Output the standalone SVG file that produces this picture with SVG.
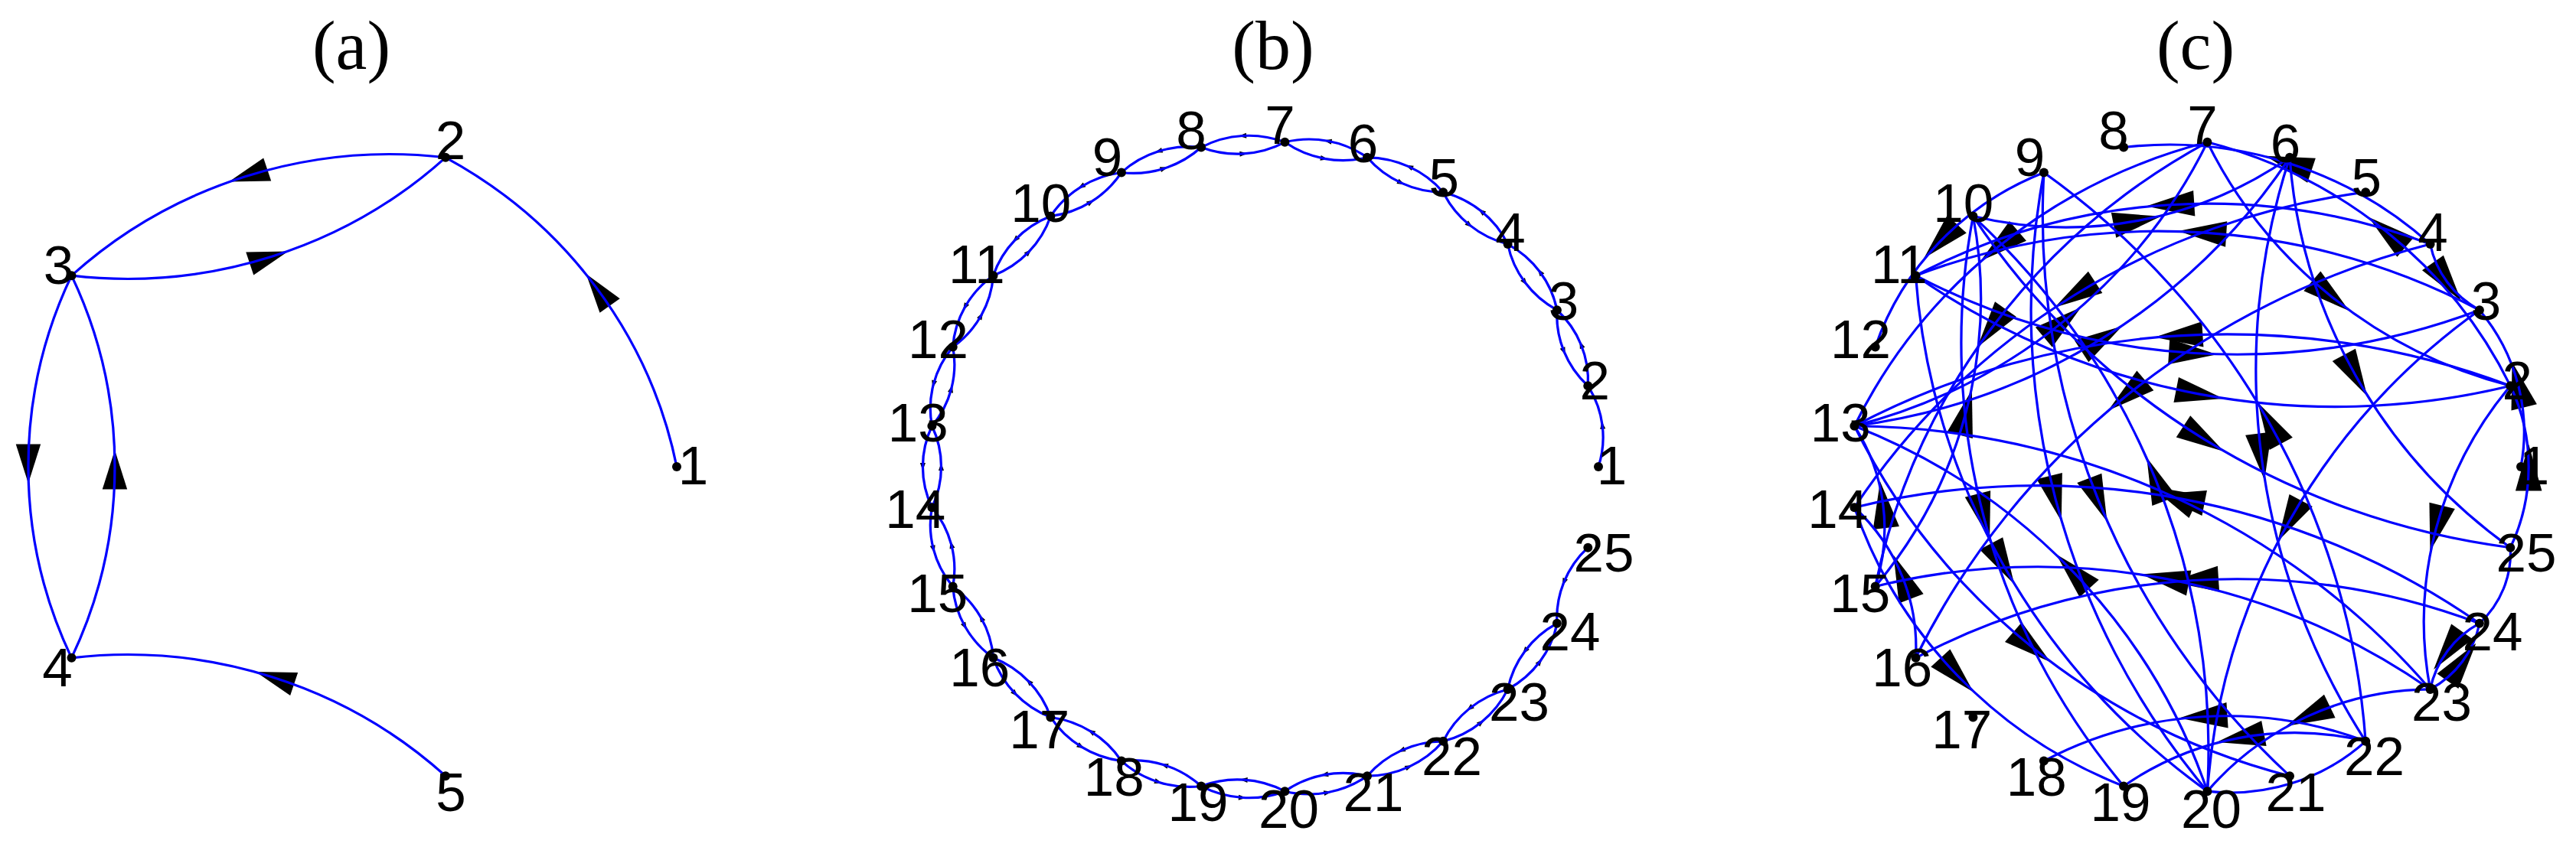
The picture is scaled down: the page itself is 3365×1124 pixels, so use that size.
<svg xmlns="http://www.w3.org/2000/svg" width="3365" height="1124" viewBox="0 0 3365 1124">
<style>
.e{fill:none;stroke:#0000ff;stroke-width:3.2}
.ar{fill:none;stroke:none}
.lbl{font-family:"Liberation Sans",Arial,sans-serif;font-size:71px;fill:#000;text-anchor:middle}
.ttl{font-family:"Liberation Serif","Times New Roman",serif;font-size:92px;fill:#000;text-anchor:middle}
.dot{fill:#000}
</style>
<defs>
<marker id="mA" markerUnits="userSpaceOnUse" orient="auto" refX="0" refY="0" markerWidth="70" markerHeight="40" overflow="visible"><path d="M22,0 L-30,-16 L-30,16 Z" fill="#000"/></marker>
<marker id="mB" markerUnits="userSpaceOnUse" orient="auto" refX="0" refY="0" markerWidth="20" markerHeight="10" overflow="visible"><path d="M5,0 L-5,-3.5 L-5,3.5 Z" fill="#000"/></marker>
<marker id="mC" markerUnits="userSpaceOnUse" orient="auto" refX="0" refY="0" markerWidth="70" markerHeight="40" overflow="visible"><path d="M30,0 L-32,-17 L-32,17 Z" fill="#000"/></marker>
<path id="c1" d="M427.60,54.02 A128.71,128.71 0 0 0 439.48,0 A128.71,128.71 0 0 0 427.60,-54.02"/>
<path id="c2" d="M417.46,107.19 A255.40,255.40 0 0 0 441.04,0 A255.40,255.40 0 0 0 417.46,-107.19"/>
<path id="c3" d="M400.73,158.66 A378.05,378.05 0 0 0 435.64,0 A378.05,378.05 0 0 0 400.73,-158.66"/>
<path id="c4" d="M377.69,207.64 A494.75,494.75 0 0 0 423.37,0 A494.75,494.75 0 0 0 377.69,-207.64"/>
<path id="c5" d="M348.69,253.34 A603.64,603.64 0 0 0 404.42,0 A603.64,603.64 0 0 0 348.69,-253.34"/>
<path id="c6" d="M314.19,295.04 A703.00,703.00 0 0 0 379.10,0 A703.00,703.00 0 0 0 314.19,-295.04"/>
<path id="c7" d="M274.73,332.09 A791.29,791.29 0 0 0 347.79,0 A791.29,791.29 0 0 0 274.73,-332.09"/>
<path id="c8" d="M230.94,363.91 A867.10,867.10 0 0 0 311.00,0 A867.10,867.10 0 0 0 230.94,-363.91"/>
<path id="c9" d="M183.51,389.98 A929.21,929.21 0 0 0 269.31,0 A929.21,929.21 0 0 0 183.51,-389.98"/>
<path id="c11" d="M80.76,423.37 A1008.78,1008.78 0 0 0 173.90,0 A1008.78,1008.78 0 0 0 80.76,-423.37"/>
<path id="c12" d="M27.06,430.15 A1024.94,1024.94 0 0 0 121.69,0 A1024.94,1024.94 0 0 0 27.06,-430.15"/>
<path id="c15" d="M-133.19,409.91 A976.71,976.71 0 0 0 -43.01,0 A976.71,976.71 0 0 0 -133.19,-409.91"/>
<path id="c16" d="M-183.51,389.98 A929.21,929.21 0 0 0 -97.71,0 A929.21,929.21 0 0 0 -183.51,-389.98"/>
<path id="c17" d="M-230.94,363.91 A867.10,867.10 0 0 0 -150.88,0 A867.10,867.10 0 0 0 -230.94,-363.91"/>
<path id="c18" d="M-274.73,332.09 A791.29,791.29 0 0 0 -201.67,0 A791.29,791.29 0 0 0 -274.73,-332.09"/>
<path id="c19" d="M-314.19,295.04 A703.00,703.00 0 0 0 -249.28,0 A703.00,703.00 0 0 0 -314.19,-295.04"/>
<path id="c20" d="M-348.69,253.34 A603.64,603.64 0 0 0 -292.96,0 A603.64,603.64 0 0 0 -348.69,-253.34"/>
<path id="c21" d="M-377.69,207.64 A494.75,494.75 0 0 0 -332.01,0 A494.75,494.75 0 0 0 -377.69,-207.64"/>
<path id="c22" d="M-400.73,158.66 A378.05,378.05 0 0 0 -365.82,0 A378.05,378.05 0 0 0 -400.73,-158.66"/>
<path id="c23" d="M-417.46,107.19 A255.40,255.40 0 0 0 -393.88,0 A255.40,255.40 0 0 0 -417.46,-107.19"/>
<path id="c24" d="M-427.60,54.02 A128.71,128.71 0 0 0 -415.72,0 A128.71,128.71 0 0 0 -427.60,-54.02"/>
</defs>

<text class="ttl" x="459" y="90">(a)</text>
<text class="ttl" x="1663" y="90">(b)</text>
<text class="ttl" x="2868" y="90">(c)</text>

<!-- Panel (a) connectors -->
<g id="edges-a" transform="translate(447,610) scale(1.01392,0.98608)">
<g class="ar" style="marker-mid:url(#mA)">
<use href="#c5" transform="rotate(-36)"/>
<use href="#c5" transform="rotate(-108)"/>
<use href="#c5" transform="rotate(-180)"/>
<use href="#c20" transform="rotate(-288)"/>
<use href="#c20"/>
<use href="#c20" transform="rotate(-72)"/>
</g>
<g class="e">
<use href="#c5" transform="rotate(-36)"/>
<use href="#c5" transform="rotate(-108)"/>
<use href="#c5" transform="rotate(-180)"/>
<use href="#c20" transform="rotate(-288)"/>
<use href="#c20"/>
<use href="#c20" transform="rotate(-72)"/>
</g>
</g>

<!-- Panel (b) connectors -->
<g id="edges-b" transform="translate(1651,610) scale(1.01392,0.98608)">
<g class="ar" style="marker-mid:url(#mB)">
<use href="#c1" transform="rotate(-7.2)"/><use href="#c1" transform="rotate(-21.6)"/><use href="#c1" transform="rotate(-36)"/><use href="#c1" transform="rotate(-50.4)"/><use href="#c1" transform="rotate(-64.8)"/><use href="#c1" transform="rotate(-79.2)"/><use href="#c1" transform="rotate(-93.6)"/><use href="#c1" transform="rotate(-108)"/><use href="#c1" transform="rotate(-122.4)"/><use href="#c1" transform="rotate(-136.8)"/><use href="#c1" transform="rotate(-151.2)"/><use href="#c1" transform="rotate(-165.6)"/><use href="#c1" transform="rotate(-180)"/><use href="#c1" transform="rotate(-194.4)"/><use href="#c1" transform="rotate(-208.8)"/><use href="#c1" transform="rotate(-223.2)"/><use href="#c1" transform="rotate(-237.6)"/><use href="#c1" transform="rotate(-252)"/><use href="#c1" transform="rotate(-266.4)"/><use href="#c1" transform="rotate(-280.8)"/><use href="#c1" transform="rotate(-295.2)"/><use href="#c1" transform="rotate(-309.6)"/><use href="#c1" transform="rotate(-324)"/>
<use href="#c24" transform="rotate(-201.6)"/><use href="#c24" transform="rotate(-216)"/><use href="#c24" transform="rotate(-230.4)"/><use href="#c24" transform="rotate(-244.8)"/><use href="#c24" transform="rotate(-259.2)"/><use href="#c24" transform="rotate(-273.6)"/><use href="#c24" transform="rotate(-288)"/><use href="#c24" transform="rotate(-302.4)"/><use href="#c24" transform="rotate(-316.8)"/><use href="#c24" transform="rotate(-331.2)"/><use href="#c24" transform="rotate(-345.6)"/><use href="#c24" transform="rotate(-360)"/><use href="#c24" transform="rotate(-374.4)"/><use href="#c24" transform="rotate(-388.8)"/><use href="#c24" transform="rotate(-403.2)"/><use href="#c24" transform="rotate(-417.6)"/><use href="#c24" transform="rotate(-432)"/><use href="#c24" transform="rotate(-446.4)"/><use href="#c24" transform="rotate(-460.8)"/><use href="#c24" transform="rotate(-475.2)"/><use href="#c24" transform="rotate(-489.6)"/><use href="#c24" transform="rotate(-504)"/><use href="#c24" transform="rotate(-518.4)"/>
</g>
<g class="e">
<use href="#c1" transform="rotate(-7.2)"/><use href="#c1" transform="rotate(-21.6)"/><use href="#c1" transform="rotate(-36)"/><use href="#c1" transform="rotate(-50.4)"/><use href="#c1" transform="rotate(-64.8)"/><use href="#c1" transform="rotate(-79.2)"/><use href="#c1" transform="rotate(-93.6)"/><use href="#c1" transform="rotate(-108)"/><use href="#c1" transform="rotate(-122.4)"/><use href="#c1" transform="rotate(-136.8)"/><use href="#c1" transform="rotate(-151.2)"/><use href="#c1" transform="rotate(-165.6)"/><use href="#c1" transform="rotate(-180)"/><use href="#c1" transform="rotate(-194.4)"/><use href="#c1" transform="rotate(-208.8)"/><use href="#c1" transform="rotate(-223.2)"/><use href="#c1" transform="rotate(-237.6)"/><use href="#c1" transform="rotate(-252)"/><use href="#c1" transform="rotate(-266.4)"/><use href="#c1" transform="rotate(-280.8)"/><use href="#c1" transform="rotate(-295.2)"/><use href="#c1" transform="rotate(-309.6)"/><use href="#c1" transform="rotate(-324)"/>
<use href="#c24" transform="rotate(-201.6)"/><use href="#c24" transform="rotate(-216)"/><use href="#c24" transform="rotate(-230.4)"/><use href="#c24" transform="rotate(-244.8)"/><use href="#c24" transform="rotate(-259.2)"/><use href="#c24" transform="rotate(-273.6)"/><use href="#c24" transform="rotate(-288)"/><use href="#c24" transform="rotate(-302.4)"/><use href="#c24" transform="rotate(-316.8)"/><use href="#c24" transform="rotate(-331.2)"/><use href="#c24" transform="rotate(-345.6)"/><use href="#c24" transform="rotate(-360)"/><use href="#c24" transform="rotate(-374.4)"/><use href="#c24" transform="rotate(-388.8)"/><use href="#c24" transform="rotate(-403.2)"/><use href="#c24" transform="rotate(-417.6)"/><use href="#c24" transform="rotate(-432)"/><use href="#c24" transform="rotate(-446.4)"/><use href="#c24" transform="rotate(-460.8)"/><use href="#c24" transform="rotate(-475.2)"/><use href="#c24" transform="rotate(-489.6)"/><use href="#c24" transform="rotate(-504)"/><use href="#c24" transform="rotate(-518.4)"/>
</g>
</g>

<!-- Panel (c) connectors -->
<g id="edges-c" transform="translate(2856,610) scale(1.01392,0.98608)">
<g class="ar" style="marker-mid:url(#mC)">
<use href="#c3" transform="rotate(-136.8)"/>
<use href="#c6" transform="rotate(-129.6)"/>
<use href="#c7" transform="rotate(-93.6)"/>
<use href="#c9" transform="rotate(-122.4)"/>
<use href="#c4" transform="rotate(-72)"/>
<use href="#c5" transform="rotate(-50.4)"/>
<use href="#c20" transform="rotate(-230.4)"/>
<use href="#c24" transform="rotate(-216)"/>
<use href="#c19" transform="rotate(-208.8)"/>
<use href="#c2" transform="rotate(-14.4)"/>
<use href="#c2" transform="rotate(-360)"/>
<use href="#c21" transform="rotate(-165.6)"/>
<use href="#c17" transform="rotate(-151.2)"/>
<use href="#c21" transform="rotate(-453.6)"/>
<use href="#c22" transform="rotate(-460.8)"/>
<use href="#c23" transform="rotate(-367.2)"/>
<use href="#c23" transform="rotate(-381.6)"/>
<use href="#c9" transform="rotate(-194.4)"/>
<use href="#c9" transform="rotate(-208.8)"/>
<use href="#c11" transform="rotate(-194.4)"/>
<use href="#c12" transform="rotate(-201.6)"/>
<use href="#c18" transform="rotate(-403.2)"/>
<use href="#c8" transform="rotate(-230.4)"/>
<use href="#c5" transform="rotate(-223.2)"/>
<use href="#c17" transform="rotate(-439.2)"/>
<use href="#c17" transform="rotate(-453.6)"/>
<use href="#c11" transform="rotate(-93.6)"/>
<use href="#c8" transform="rotate(-86.4)"/>
<use href="#c17" transform="rotate(-266.4)"/>
<use href="#c16" transform="rotate(-259.2)"/>
<use href="#c15" transform="rotate(-237.6)"/>
<use href="#c12" transform="rotate(-129.6)"/>
<use href="#c20" transform="rotate(-345.6)"/>
<use href="#c8" transform="rotate(-144)"/>
<use href="#c19" transform="rotate(-309.6)"/>
<use href="#c18" transform="rotate(-302.4)"/>
<use href="#c21" transform="rotate(-280.8)"/>
<use href="#c16" transform="rotate(-187.2)"/>
<use href="#c12" transform="rotate(-388.8)"/>
<use href="#c22" transform="rotate(-475.2)"/>
<use href="#c15" transform="rotate(-439.2)"/>
<use href="#c15" transform="rotate(-381.6)"/>
<use href="#c15" transform="rotate(-424.8)"/>
<use href="#c1" transform="rotate(-324)"/>
<use href="#c24" transform="rotate(-504)"/>
</g>
<g class="e">
<use href="#c3" transform="rotate(-136.8)"/>
<use href="#c6" transform="rotate(-129.6)"/>
<use href="#c7" transform="rotate(-93.6)"/>
<use href="#c9" transform="rotate(-122.4)"/>
<use href="#c4" transform="rotate(-72)"/>
<use href="#c5" transform="rotate(-50.4)"/>
<use href="#c20" transform="rotate(-230.4)"/>
<use href="#c24" transform="rotate(-216)"/>
<use href="#c19" transform="rotate(-208.8)"/>
<use href="#c2" transform="rotate(-14.4)"/>
<use href="#c2" transform="rotate(-360)"/>
<use href="#c21" transform="rotate(-165.6)"/>
<use href="#c17" transform="rotate(-151.2)"/>
<use href="#c21" transform="rotate(-453.6)"/>
<use href="#c22" transform="rotate(-460.8)"/>
<use href="#c23" transform="rotate(-367.2)"/>
<use href="#c23" transform="rotate(-381.6)"/>
<use href="#c9" transform="rotate(-194.4)"/>
<use href="#c9" transform="rotate(-208.8)"/>
<use href="#c11" transform="rotate(-194.4)"/>
<use href="#c12" transform="rotate(-201.6)"/>
<use href="#c18" transform="rotate(-403.2)"/>
<use href="#c8" transform="rotate(-230.4)"/>
<use href="#c5" transform="rotate(-223.2)"/>
<use href="#c17" transform="rotate(-439.2)"/>
<use href="#c17" transform="rotate(-453.6)"/>
<use href="#c11" transform="rotate(-93.6)"/>
<use href="#c8" transform="rotate(-86.4)"/>
<use href="#c17" transform="rotate(-266.4)"/>
<use href="#c16" transform="rotate(-259.2)"/>
<use href="#c15" transform="rotate(-237.6)"/>
<use href="#c12" transform="rotate(-129.6)"/>
<use href="#c20" transform="rotate(-345.6)"/>
<use href="#c8" transform="rotate(-144)"/>
<use href="#c19" transform="rotate(-309.6)"/>
<use href="#c18" transform="rotate(-302.4)"/>
<use href="#c21" transform="rotate(-280.8)"/>
<use href="#c16" transform="rotate(-187.2)"/>
<use href="#c12" transform="rotate(-388.8)"/>
<use href="#c22" transform="rotate(-475.2)"/>
<use href="#c15" transform="rotate(-439.2)"/>
<use href="#c15" transform="rotate(-381.6)"/>
<use href="#c15" transform="rotate(-424.8)"/>
<use href="#c1" transform="rotate(-324)"/>
<use href="#c24" transform="rotate(-504)"/>
<use href="#c2" transform="rotate(-288)"/>
<use href="#c1" transform="rotate(-338.4)"/>
</g>
</g>

<!-- Panel (a) nodes -->
<g id="a-n1" transform="translate(884,610)"><circle class="dot" r="6"/><text class="lbl" x="21.6" y="23">1</text></g>
<g id="a-n2" transform="translate(582,205.8)"><circle class="dot" r="6"/><text class="lbl" x="6.5" y="2.2">2</text></g>
<g id="a-n3" transform="translate(93.5,360.2)"><circle class="dot" r="6"/><text class="lbl" x="-17" y="10.8">3</text></g>
<g id="a-n4" transform="translate(93.5,859.8)"><circle class="dot" r="6"/><text class="lbl" x="-18.5" y="37.2">4</text></g>
<g id="a-n5" transform="translate(582,1014.2)"><circle class="dot" r="6"/><text class="lbl" x="7" y="45.8">5</text></g>

<!-- Panel (b) nodes -->
<g id="b-n1" transform="translate(2088,610)"><circle class="dot" r="6"/><text class="lbl" x="17.6" y="23">1</text></g>
<g id="b-n2" transform="translate(2074.3,504.3)"><circle class="dot" r="6"/><text class="lbl" x="9" y="18">2</text></g>
<g id="b-n3" transform="translate(2033.9,405.3)"><circle class="dot" r="6"/><text class="lbl" x="8.5" y="13">3</text></g>
<g id="b-n4" transform="translate(1969.6,319.1)"><circle class="dot" r="6"/><text class="lbl" x="3.5" y="9">4</text></g>
<g id="b-n5" transform="translate(1885.2,251.2)"><circle class="dot" r="6"/><text class="lbl" x="1" y="6">5</text></g>
<g id="b-n6" transform="translate(1786,205.8)"><circle class="dot" r="6"/><text class="lbl" x="-5.5" y="6">6</text></g>
<g id="b-n7" transform="translate(1678.4,185.8)"><circle class="dot" r="6"/><text class="lbl" x="-6.5" y="2">7</text></g>
<g id="b-n8" transform="translate(1569.1,192.5)"><circle class="dot" r="6"/><text class="lbl" x="-13" y="2.5">8</text></g>
<g id="b-n9" transform="translate(1464.9,225.4)"><circle class="dot" r="6"/><text class="lbl" x="-18.5" y="4.5">9</text></g>
<g id="b-n10" transform="translate(1372.4,282.5)"><circle class="dot" r="6"/><text class="lbl" x="-12.7" y="7.5">10</text></g>
<g id="b-n11" transform="translate(1297.5,360.2)"><circle class="dot" r="6"/><text class="lbl" x="-21.7" y="10">11</text></g>
<g id="b-n12" transform="translate(1244.7,453.5)"><circle class="dot" r="6"/><text class="lbl" x="-19.2" y="14">12</text></g>
<g id="b-n13" transform="translate(1217.4,556.7)"><circle class="dot" r="6"/><text class="lbl" x="-18.2" y="20">13</text></g>
<g id="b-n14" transform="translate(1217.4,663.3)"><circle class="dot" r="6"/><text class="lbl" x="-21.7" y="27">14</text></g>
<g id="b-n15" transform="translate(1244.7,766.5)"><circle class="dot" r="6"/><text class="lbl" x="-19.9" y="33.6">15</text></g>
<g id="b-n16" transform="translate(1297.5,859.8)"><circle class="dot" r="6"/><text class="lbl" x="-17.7" y="37">16</text></g>
<g id="b-n17" transform="translate(1372.4,937.5)"><circle class="dot" r="6"/><text class="lbl" x="-14.7" y="40.5">17</text></g>
<g id="b-n18" transform="translate(1464.9,994.6)"><circle class="dot" r="6"/><text class="lbl" x="-9.6" y="45.5">18</text></g>
<g id="b-n19" transform="translate(1569.1,1027.5)"><circle class="dot" r="6"/><text class="lbl" x="-4.2" y="45.5">19</text></g>
<g id="b-n20" transform="translate(1678.4,1034.2)"><circle class="dot" r="6"/><text class="lbl" x="5" y="48">20</text></g>
<g id="b-n21" transform="translate(1786,1014.2)"><circle class="dot" r="6"/><text class="lbl" x="7.9" y="46">21</text></g>
<g id="b-n22" transform="translate(1885.2,968.8)"><circle class="dot" r="6"/><text class="lbl" x="11.4" y="44">22</text></g>
<g id="b-n23" transform="translate(1969.6,900.9)"><circle class="dot" r="6"/><text class="lbl" x="15" y="41">23</text></g>
<g id="b-n24" transform="translate(2033.9,814.7)"><circle class="dot" r="6"/><text class="lbl" x="17" y="35">24</text></g>
<g id="b-n25" transform="translate(2074.3,715.7)"><circle class="dot" r="6"/><text class="lbl" x="20.7" y="31">25</text></g>

<!-- Panel (c) nodes -->
<g id="c-n1" transform="translate(3293,610)"><circle class="dot" r="6"/><text class="lbl" x="17.6" y="23">1</text></g>
<g id="c-n2" transform="translate(3279.3,504.3)"><circle class="dot" r="6"/><text class="lbl" x="9" y="18">2</text></g>
<g id="c-n3" transform="translate(3238.9,405.3)"><circle class="dot" r="6"/><text class="lbl" x="8.5" y="13">3</text></g>
<g id="c-n4" transform="translate(3174.6,319.1)"><circle class="dot" r="6"/><text class="lbl" x="3.5" y="9">4</text></g>
<g id="c-n5" transform="translate(3090.2,251.2)"><circle class="dot" r="6"/><text class="lbl" x="1" y="6">5</text></g>
<g id="c-n6" transform="translate(2991,205.8)"><circle class="dot" r="6"/><text class="lbl" x="-5.5" y="6">6</text></g>
<g id="c-n7" transform="translate(2883.4,185.8)"><circle class="dot" r="6"/><text class="lbl" x="-6.5" y="2">7</text></g>
<g id="c-n8" transform="translate(2774.1,192.5)"><circle class="dot" r="6"/><text class="lbl" x="-13" y="2.5">8</text></g>
<g id="c-n9" transform="translate(2669.9,225.4)"><circle class="dot" r="6"/><text class="lbl" x="-18.5" y="4.5">9</text></g>
<g id="c-n10" transform="translate(2577.4,282.5)"><circle class="dot" r="6"/><text class="lbl" x="-12.7" y="7.5">10</text></g>
<g id="c-n11" transform="translate(2502.5,360.2)"><circle class="dot" r="6"/><text class="lbl" x="-21.7" y="10">11</text></g>
<g id="c-n12" transform="translate(2449.7,453.5)"><circle class="dot" r="6"/><text class="lbl" x="-19.2" y="14">12</text></g>
<g id="c-n13" transform="translate(2422.4,556.7)"><circle class="dot" r="6"/><text class="lbl" x="-18.2" y="20">13</text></g>
<g id="c-n14" transform="translate(2422.4,663.3)"><circle class="dot" r="6"/><text class="lbl" x="-21.7" y="27">14</text></g>
<g id="c-n15" transform="translate(2449.7,766.5)"><circle class="dot" r="6"/><text class="lbl" x="-19.9" y="33.6">15</text></g>
<g id="c-n16" transform="translate(2502.5,859.8)"><circle class="dot" r="6"/><text class="lbl" x="-17.7" y="37">16</text></g>
<g id="c-n17" transform="translate(2577.4,937.5)"><circle class="dot" r="6"/><text class="lbl" x="-14.7" y="40.5">17</text></g>
<g id="c-n18" transform="translate(2669.9,994.6)"><circle class="dot" r="6"/><text class="lbl" x="-9.6" y="45.5">18</text></g>
<g id="c-n19" transform="translate(2774.1,1027.5)"><circle class="dot" r="6"/><text class="lbl" x="-4.2" y="45.5">19</text></g>
<g id="c-n20" transform="translate(2883.4,1034.2)"><circle class="dot" r="6"/><text class="lbl" x="5" y="48">20</text></g>
<g id="c-n21" transform="translate(2991,1014.2)"><circle class="dot" r="6"/><text class="lbl" x="7.9" y="46">21</text></g>
<g id="c-n22" transform="translate(3090.2,968.8)"><circle class="dot" r="6"/><text class="lbl" x="11.4" y="44">22</text></g>
<g id="c-n23" transform="translate(3174.6,900.9)"><circle class="dot" r="6"/><text class="lbl" x="15" y="41">23</text></g>
<g id="c-n24" transform="translate(3238.9,814.7)"><circle class="dot" r="6"/><text class="lbl" x="17" y="35">24</text></g>
<g id="c-n25" transform="translate(3279.3,715.7)"><circle class="dot" r="6"/><text class="lbl" x="20.7" y="31">25</text></g>
</svg>
